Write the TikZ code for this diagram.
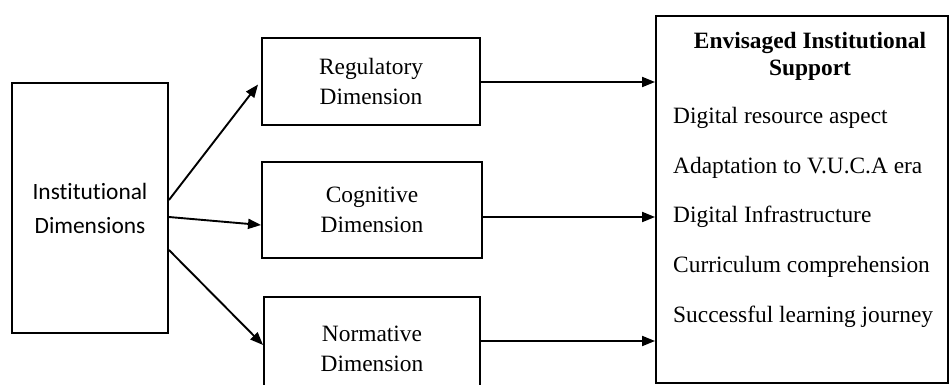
\documentclass[tikz,border=0pt]{standalone}
\usepackage{fontspec}
\setmainfont{Liberation Serif}
\newfontfamily\carlito[Ligatures=NoCommon]{Carlito}
\usetikzlibrary{arrows.meta}
\tikzset{
  box/.style={draw, line width=1.9pt, inner sep=0pt, align=center},
  serif/.style={font=\fontsize{23.4}{30}\selectfont},
  arr/.style={line width=1.9pt, -{Triangle[length=13pt,width=10pt]}},
  item/.style={anchor=west, inner sep=0pt, font=\fontsize{23.4}{28}\selectfont}
}
\begin{document}
\begin{tikzpicture}[x=1pt,y=-1pt]
\useasboundingbox (0,0) rectangle (952,385);
\node[box, minimum width=156pt, minimum height=250pt, font=\carlito\fontsize{23.4}{34}\selectfont] (left) at (90,208) {Institutional\\Dimensions};
\node[box, serif, minimum width=218pt, minimum height=87pt] (reg) at (371,81.5) {Regulatory\\Dimension};
\node[box, serif, minimum width=220pt, minimum height=96pt] (cog) at (372,210) {Cognitive\\Dimension};
\node[box, serif, minimum width=216pt, minimum height=103pt] (norm) at (372,348.5) {Normative\\Dimension};
\node[box, minimum width=292pt, minimum height=367pt] (right) at (802,199.5) {};
\node[font=\bfseries\fontsize{23.4}{27}\selectfont, align=center, inner sep=0pt] (title) at (810,56) {Envisaged Institutional\\Support};
\node[item] (i1) at (673,118) {Digital resource aspect};
\node[item] (i2) at (673,168) {Adaptation to V.U.C.A era};
\node[item] (i3) at (673,217) {Digital Infrastructure};
\node[item] (i4) at (673,267) {Curriculum comprehension};
\node[item] (i5) at (673,317) {Successful learning journey};
\draw[arr] ([yshift=-0.5pt]reg.east) -- ([yshift=-0.5pt]reg.east -| right.west);
\draw[arr] ([yshift=-7pt]cog.east) -- ([yshift=-7pt]cog.east -| right.west);
\draw[arr] ([yshift=7.5pt]norm.east) -- ([yshift=7.5pt]norm.east -| right.west);
\draw[arr] ([yshift=8pt]left.east) -- ([xshift=-3pt,yshift=-3pt]reg.west);
\draw[arr] ([yshift=-9pt]left.east) -- ([yshift=-15pt]cog.west);
\draw[arr] ([yshift=-42pt]left.east) -- ([yshift=3.5pt]norm.west);
\end{tikzpicture}
\end{document}
